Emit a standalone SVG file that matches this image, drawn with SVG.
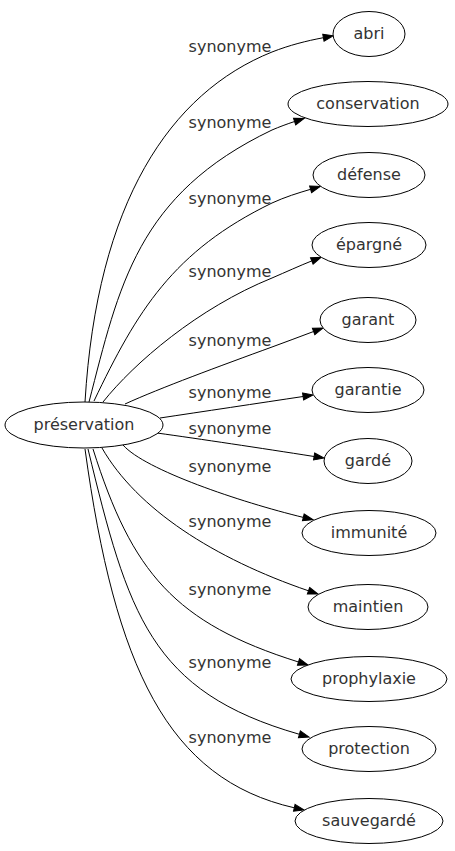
<svg xmlns="http://www.w3.org/2000/svg" width="455" height="851" viewBox="0 0 455 851">
<style>
.n ellipse{fill:#fff;stroke:#000;stroke-width:1}
text{font-family:"DejaVu Sans",sans-serif;font-size:16px;fill:#333;text-anchor:middle}
.e path{fill:none;stroke:#000;stroke-width:1}
</style>
<defs>
<marker id="ah" markerUnits="userSpaceOnUse" markerWidth="10" markerHeight="7" refX="0" refY="3.5" orient="auto" overflow="visible">
<path d="M0,0 L10,3.5 L0,7 z" fill="#000" stroke="#000" stroke-width="1"/>
</marker>
</defs>
<rect width="455" height="851" fill="#fff"/>
<g id="edges" class="e">
<path marker-end="url(#ah)" d="M85,402 C97,202 170,93 272,52 C290,45 306,41 323.4,37.7"/>
<path marker-end="url(#ah)" d="M89,402 C119,286 137,194.5 272,130 C279,127 287,124 294.6,121.5"/>
<path marker-end="url(#ah)" d="M94,401 C137,311 173,251 272,203 C285,197 298,193 310.6,189.3"/>
<path marker-end="url(#ah)" d="M103,402 C134,363 198,308 272,278 C286,272 299,266 311.8,260.9"/>
<path marker-end="url(#ah)" d="M125,404 C160,388 220,366 272,347 C286,342 300,336.5 313.6,331.5"/>
<path marker-end="url(#ah)" d="M160,418 C200,412 260,403 303.1,396.5"/>
<path marker-end="url(#ah)" d="M157,433 C200,439 260,448 314.1,456.5"/>
<path marker-end="url(#ah)" d="M123,445 C145,470 240,502 303.3,517.4"/>
<path marker-end="url(#ah)" d="M102,448 C137,509 214,558.5 308.5,590.8"/>
<path marker-end="url(#ah)" d="M93,449 C132,572.5 174.5,623 298.5,662"/>
<path marker-end="url(#ah)" d="M88,449 C128,614 150.3,691.7 299.4,734.3"/>
<path marker-end="url(#ah)" d="M85,449 C115,667 167.5,779 294.3,807.8"/>
<text x="230" y="52">synonyme</text>
<text x="230" y="128">synonyme</text>
<text x="230" y="204">synonyme</text>
<text x="230" y="277">synonyme</text>
<text x="230" y="346">synonyme</text>
<text x="230" y="398">synonyme</text>
<text x="230" y="434">synonyme</text>
<text x="230" y="472">synonyme</text>
<text x="230" y="527">synonyme</text>
<text x="230" y="595">synonyme</text>
<text x="230" y="668">synonyme</text>
<text x="230" y="743">synonyme</text>
</g>
<g id="preservation" class="n"><ellipse cx="84" cy="425" rx="79" ry="23"/><text x="84" y="430">préservation</text></g>
<g id="abri" class="n"><ellipse cx="369" cy="34" rx="36" ry="22.5"/><text x="369" y="39">abri</text></g>
<g id="conservation" class="n"><ellipse cx="368" cy="104" rx="80" ry="22.5"/><text x="368" y="109">conservation</text></g>
<g id="defense" class="n"><ellipse cx="369" cy="175" rx="56" ry="22.5"/><text x="369" y="180">défense</text></g>
<g id="epargne" class="n"><ellipse cx="369" cy="245" rx="57" ry="22.5"/><text x="369" y="250">épargné</text></g>
<g id="garant" class="n"><ellipse cx="368" cy="320" rx="48" ry="22.5"/><text x="368" y="325">garant</text></g>
<g id="garantie" class="n"><ellipse cx="368" cy="390" rx="56" ry="22.5"/><text x="368" y="395">garantie</text></g>
<g id="garde" class="n"><ellipse cx="368" cy="461" rx="44" ry="22.5"/><text x="368" y="466">gardé</text></g>
<g id="immunite" class="n"><ellipse cx="369" cy="533" rx="67" ry="22.5"/><text x="369" y="538">immunité</text></g>
<g id="maintien" class="n"><ellipse cx="368" cy="607" rx="60" ry="22.5"/><text x="368" y="612">maintien</text></g>
<g id="prophylaxie" class="n"><ellipse cx="369" cy="679" rx="78" ry="22.5"/><text x="369" y="684">prophylaxie</text></g>
<g id="protection" class="n"><ellipse cx="369" cy="749" rx="67" ry="22.5"/><text x="369" y="754">protection</text></g>
<g id="sauvegarde" class="n"><ellipse cx="369" cy="821" rx="74" ry="22.5"/><text x="369" y="826">sauvegardé</text></g>
</svg>
